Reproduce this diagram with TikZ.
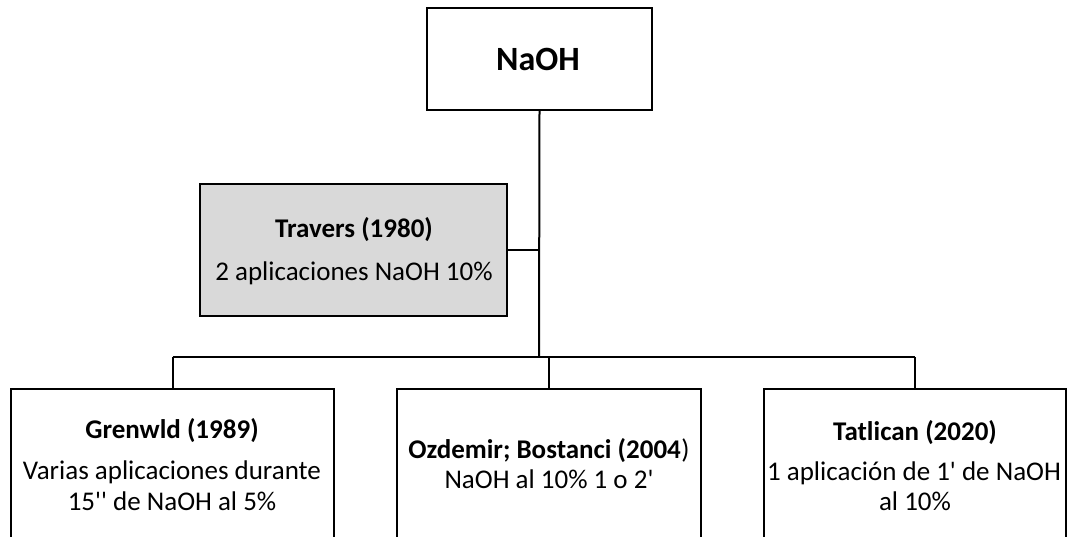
\documentclass[tikz,border=0pt]{standalone}
\usepackage{fontspec}
\setmainfont{Carlito}
\newcommand\myq{\textquotesingle}
\definecolor{boxgray}{HTML}{D9D9D9}
\begin{document}
\begin{tikzpicture}[x=1pt,y=-1pt,
  boxline/.style={draw=black,line width=2pt,rectangle,inner sep=0pt},
  conn/.style={draw=black,line width=2pt},
  body/.style={anchor=base,inner sep=0pt,font=\fontsize{27}{33}\selectfont},
  title/.style={anchor=base,inner sep=0pt,font=\fontsize{27}{33}\selectfont\bfseries}]
\useasboundingbox (0,0) rectangle (1068,537);
\clip (0,0) rectangle (1068,537);
% boxes
\node[boxline,minimum width=225pt,minimum height=102pt] (naoh) at (539.5,59) {};
\node[boxline,fill=boxgray,minimum width=307pt,minimum height=132pt] (trav) at (353.5,250) {};
\node[boxline,minimum width=323pt,minimum height=180pt] (gren) at (172.5,479) {};
\node[boxline,minimum width=304pt,minimum height=180pt] (ozd) at (549,479) {};
\node[boxline,minimum width=302pt,minimum height=180pt] (tat) at (915,479) {};
% texts
\node[anchor=base,inner sep=0pt,font=\fontsize{34}{40}\selectfont\bfseries] (naohT) at (538,71) {NaOH};
\node[title] (travT) at (354,238) {Travers (1980)};
\node[body] (travB) at (354,280) {2 aplicaciones NaOH 10\%};
\node[title] (grenT) at (172,438) {Grenwld (1989)};
\node[body] (grenB1) at (172,479) {Varias aplicaciones durante};
\node[body] (grenB2) at (172,510) {15\myq\myq{} de NaOH al 5\%};
\node[body] (ozdT) at (549,458) {\textbf{Ozdemir; Bostanci (2004}\kern0.5pt)};
\node[body] (ozdB) at (549,488) {NaOH al 10\% 1 o 2\myq};
\node[title] (tatT) at (915,440) {Tatlican (2020)};
\node[body] (tatB1) at (914,480) {1 aplicación de 1\myq{} de NaOH};
\node[body] (tatB2) at (915,510) {al 10\%};
% connectors
\coordinate (busM) at (539,357);
\coordinate (busL) at (172.5,357);
\coordinate (busR) at (915,357);
\coordinate (ozdTop) at (549,357);
\draw[conn] (naoh.south) -- (busM);
\draw[conn] (trav.east) -- (trav.east -| naoh.south);
\draw[conn] (busL) -- (busR);
\draw[conn] (busL) -- (gren.north);
\draw[conn] (ozdTop) -- (ozd.north);
\draw[conn] (busR) -- (tat.north);
\end{tikzpicture}
\end{document}
